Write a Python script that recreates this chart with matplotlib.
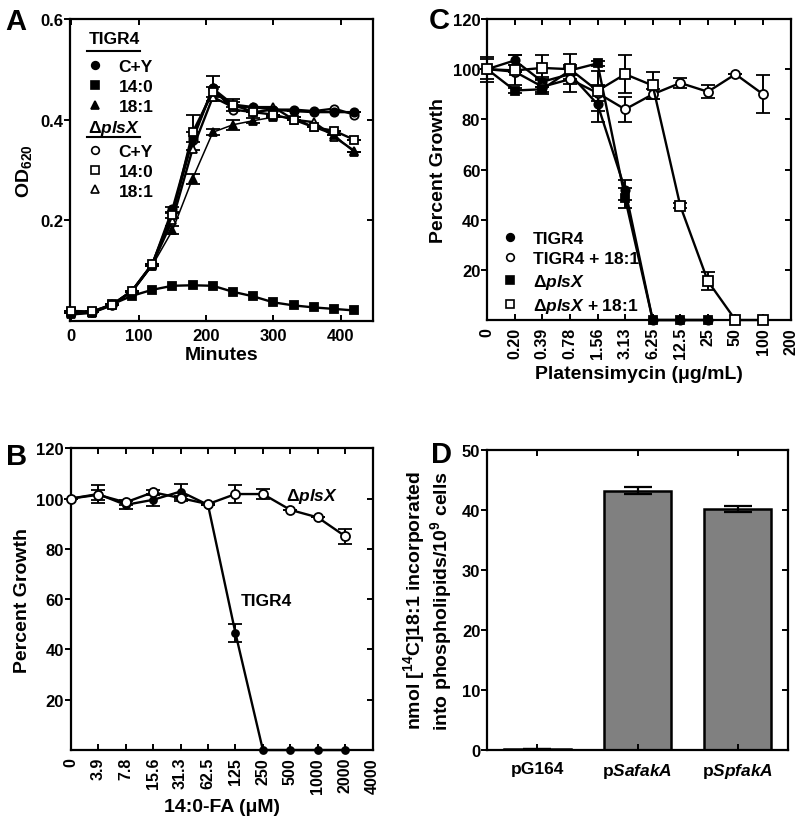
import numpy as np
import matplotlib
matplotlib.use('Agg')
import matplotlib.pyplot as plt
from matplotlib.lines import Line2D

plt.rcParams['font.family'] = ['Liberation Sans', 'DejaVu Sans']
plt.rcParams['font.weight'] = 'bold'
plt.rcParams['axes.labelweight'] = 'bold'
plt.rcParams['mathtext.fontset'] = 'custom'
plt.rcParams['mathtext.rm'] = 'Liberation Sans:bold'
plt.rcParams['mathtext.it'] = 'Liberation Sans:bold:italic'
plt.rcParams['mathtext.bf'] = 'Liberation Sans:bold'

PLSX = r'$\Delta\mathit{plsX}$'

# ---- panel A: growth curves
minutes = [0, 30, 60, 90, 120, 150, 180, 210, 240, 270, 300, 330, 360, 390, 420]
tigr4_cy = [0.015, 0.017, 0.032, 0.058, 0.112, 0.222, 0.365, 0.462, 0.43, 0.425, 0.42, 0.417, 0.415, 0.415, 0.415]
tigr4_cy_err = [0, 0, 0, 0, 0, 0.005, 0.01, 0.025, 0.012, 0, 0, 0, 0, 0, 0]
tigr4_140 = [0.017, 0.018, 0.033, 0.05, 0.062, 0.07, 0.071, 0.07, 0.058, 0.049, 0.037, 0.031, 0.027, 0.024, 0.021]
tigr4_181 = [0.015, 0.017, 0.033, 0.058, 0.11, 0.18, 0.283, 0.375, 0.39, 0.398, 0.405, 0.405, 0.385, 0.37, 0.335]
tigr4_181_err = [0, 0, 0, 0, 0, 0.008, 0.01, 0.006, 0.01, 0.005, 0, 0, 0, 0, 0]
plsx_cy = [0.015, 0.017, 0.032, 0.06, 0.113, 0.215, 0.36, 0.462, 0.42, 0.415, 0.42, 0.42, 0.417, 0.422, 0.41]
plsx_140 = [0.02, 0.019, 0.032, 0.06, 0.113, 0.21, 0.375, 0.455, 0.43, 0.415, 0.41, 0.40, 0.385, 0.378, 0.36]
plsx_140_err = [0, 0, 0, 0, 0, 0.005, 0.035, 0.01, 0.005, 0, 0, 0, 0, 0, 0]
plsx_181 = [0.013, 0.016, 0.031, 0.06, 0.112, 0.20, 0.342, 0.445, 0.425, 0.425, 0.425, 0.40, 0.395, 0.366, 0.338]

# ---- panel B: 14:0 titration
fa_labels = ['0', '3.9', '7.8', '15.6', '31.3', '62.5', '125', '250', '500', '1000', '2000', '4000']
b_tigr4 = [100, 101.8, 97.5, 99.5, 102.8, 97.5, 46.5, 0, 0, 0, 0]
b_tigr4_err = [0, 3.5, 1.5, 2.5, 3, 0, 3.5, 0, 0, 0, 0]
b_plsx = [100, 101.5, 98.5, 102.5, 100.2, 97.8, 101.8, 101.8, 95.5, 92.5, 85]
b_plsx_err = [0, 2, 1, 1, 1, 0, 3.5, 2, 0, 0, 3]

# ---- panel C: platensimycin titration
pla_labels = ['0', '0.20', '0.39', '0.78', '1.56', '3.13', '6.25', '12.5', '25', '50', '100', '200']
c_tigr4 = [100, 103.5, 95, 98, 86, 52, 0, 0, 0]
c_tigr4_err = [4, 2, 2, 2, 7, 4, 0, 0, 0]
c_tigr4_181 = [100, 99, 93, 96, 90.5, 84, 90, 94.5, 91, 98, 90]
c_tigr4_181_err = [0, 0, 3, 5, 3, 5, 2, 2, 2.5, 0, 7.5]
c_plsx = [100, 91.5, 92, 99.5, 102.3, 48.5, 0, 0, 0]
c_plsx_err = [0, 1, 1, 2, 1, 4, 0, 0, 0]
c_plsx_181 = [100, 99.5, 100.5, 100, 91.4, 98, 93.5, 45.5, 15.5, 0, 0]
c_plsx_181_err = [5, 6, 5, 6, 8, 7.5, 5.5, 1, 3.5, 0, 0]

# ---- panel D: incorporation
strains = ['pG164', r'p$\mathit{SafakA}$', r'p$\mathit{SpfakA}$']
incorp = [0.2, 43.2, 40.2]
incorp_err = [0.05, 0.6, 0.5]

fig = plt.figure(figsize=(8, 8.2), dpi=100)
axA = fig.add_axes([0.0875, 0.6073, 0.379, 0.3683])
axC = fig.add_axes([0.609, 0.6085, 0.3793, 0.3671])
axB = fig.add_axes([0.0884, 0.0841, 0.3775, 0.368])
axD = fig.add_axes([0.609, 0.0841, 0.376, 0.3663])


def style(ax):
    for s in ax.spines.values():
        s.set_linewidth(1.6)
    ax.tick_params(axis='both', which='both', labelsize=12, width=1.4, length=4)
    ax.tick_params(axis='x', direction='in', top=True, pad=5)
    ax.tick_params(axis='y', direction='out', right=False, pad=1)
    sec = ax.secondary_yaxis('right')
    sec.tick_params(direction='in', width=1.4, length=4, labelright=False)
    sec.spines['right'].set_visible(False)
    return sec


def series(ax, x, y, err, marker, filled, ms=6.5, lw=1.7):
    fc = 'black' if filled else 'white'
    if err is not None:
        ax.errorbar(x, y, yerr=err, color='black', lw=lw, marker=marker, ms=ms,
                    mfc=fc, mec='black', mew=1.3, capsize=5, elinewidth=1.4,
                    capthick=1.4, clip_on=False, zorder=3)
    else:
        ax.plot(x, y, color='black', lw=lw, marker=marker, ms=ms, mfc=fc,
                mec='black', mew=1.3, clip_on=False, zorder=3)


# panel A
series(axA, minutes, tigr4_140, None, 's', True, ms=6)
series(axA, minutes, tigr4_181, tigr4_181_err, '^', True, ms=6, lw=1.1)
series(axA, minutes, tigr4_cy, tigr4_cy_err, 'o', True, ms=6)
series(axA, minutes, plsx_cy, None, 'o', False, ms=6)
series(axA, minutes, plsx_140, plsx_140_err, 's', False, ms=6)
series(axA, minutes, plsx_181, None, '^', False, ms=6)
axA.set_xlim(-2, 448)
axA.set_ylim(0, 0.6)
axA.set_xticks([0, 100, 200, 300, 400])
axA.set_yticks([0.2, 0.4, 0.6])
axA.set_yticklabels(['0.2', '0.4', '0.6'])
secA = style(axA)
secA.set_yticks([0.2, 0.4])
axA.set_xlabel('Minutes', fontsize=14, labelpad=2)
axA.set_ylabel('OD$_{620}$', fontsize=14, labelpad=4)

mk = dict(ls='none', color='black', ms=5.5, mec='black', mew=1.2)
h1 = [Line2D([], [], marker='o', mfc='black', **mk),
      Line2D([], [], marker='s', mfc='black', **mk),
      Line2D([], [], marker='^', mfc='black', **mk)]
h2 = [Line2D([], [], marker='o', mfc='white', **mk),
      Line2D([], [], marker='s', mfc='white', **mk),
      Line2D([], [], marker='^', mfc='white', **mk)]
conds = ['C+Y', '14:0', '18:1']
legkw = dict(loc='upper left', frameon=False, handlelength=0.7, handletextpad=1.0,
             labelspacing=0.27, borderaxespad=0, borderpad=0, fontsize=12.5)
leg1 = axA.legend(h1, conds, bbox_to_anchor=(0.063, 0.868), **legkw)
axA.add_artist(leg1)
axA.legend(h2, conds, bbox_to_anchor=(0.063, 0.587), **legkw)
axA.text(0.145, 0.934, 'TIGR4', transform=axA.transAxes, ha='center', va='center', fontsize=12.5)
axA.text(0.145, 0.641, PLSX, transform=axA.transAxes, ha='center', va='center', fontsize=12.5)
axA.plot([0.055, 0.231], [0.895, 0.895], transform=axA.transAxes, color='black', lw=1.5)
axA.plot([0.055, 0.231], [0.608, 0.608], transform=axA.transAxes, color='black', lw=1.5)

# panel B
xb = np.arange(len(b_plsx))
series(axB, xb, b_tigr4, b_tigr4_err, 'o', True, ms=5)
series(axB, xb, b_plsx, b_plsx_err, 'o', False)
axB.set_xlim(0, len(fa_labels) - 1)
axB.set_ylim(0, 120)
axB.set_xticks(np.arange(len(fa_labels)))
axB.set_xticklabels(fa_labels, rotation=90)
axB.set_yticks([20, 40, 60, 80, 100, 120])
secB = style(axB)
secB.set_yticks([20, 40, 60, 80, 100])
axB.tick_params(axis='x', labelsize=11.5)
axB.set_xlabel('14:0-FA (μM)', fontsize=14, labelpad=4)
axB.set_ylabel('Percent Growth', fontsize=14, labelpad=4)
axB.text(7.85, 101.2, PLSX, fontsize=12.5, ha='left', va='center')
axB.text(6.2, 59.4, 'TIGR4', fontsize=12.5, ha='left', va='center')

# panel C
series(axC, np.arange(len(c_tigr4)), c_tigr4, c_tigr4_err, 'o', True, ms=6)
series(axC, np.arange(len(c_tigr4_181)), c_tigr4_181, c_tigr4_181_err, 'o', False)
series(axC, np.arange(len(c_plsx)), c_plsx, c_plsx_err, 's', True, ms=6)
series(axC, np.arange(len(c_plsx_181)), c_plsx_181, c_plsx_181_err, 's', False)
axC.set_xlim(0, len(pla_labels) - 1)
axC.set_ylim(0, 120)
axC.set_xticks(np.arange(len(pla_labels)))
axC.set_xticklabels(pla_labels, rotation=90)
axC.set_yticks([20, 40, 60, 80, 100, 120])
secC = style(axC)
secC.set_yticks([20, 40, 60, 80, 100])
axC.tick_params(axis='x', labelsize=11.5)
axC.set_xlabel('Platensimycin (μg/mL)', fontsize=14, labelpad=5)
axC.set_ylabel('Percent Growth', fontsize=14, labelpad=4)
hc = [Line2D([], [], marker='o', mfc='black', **mk),
      Line2D([], [], marker='o', mfc='white', **mk),
      Line2D([], [], marker='s', mfc='black', **mk),
      Line2D([], [], marker='s', mfc='white', **mk)]
axC.legend(hc, ['TIGR4', 'TIGR4 + 18:1', PLSX, PLSX + ' + 18:1'], loc='lower left',
           bbox_to_anchor=(0.055, 0.017), frameon=False, handlelength=0.7,
           handletextpad=0.95, labelspacing=0.3, borderaxespad=0, borderpad=0, fontsize=12.5)

# panel D
xd = np.arange(len(strains))
axD.bar(xd, incorp, width=0.67, color='#808080', edgecolor='black', linewidth=1.8,
        yerr=incorp_err, capsize=10, error_kw=dict(elinewidth=1.6, capthick=1.6))
axD.set_xlim(-0.5, 2.5)
axD.set_ylim(0, 50)
axD.set_xticks(xd)
axD.set_xticklabels(strains)
axD.set_yticks([0, 10, 20, 30, 40, 50])
secD = style(axD)
secD.set_yticks([10, 20, 30, 40])
axD.tick_params(axis='x', labelsize=12.5, pad=8)
axD.set_ylabel('nmol [$^{14}$C]18:1 incorporated\ninto phospholipids/10$^{9}$ cells',
               fontsize=14, labelpad=6, linespacing=1.05)

for lab, x, y in [('A', 0.006, 0.9634), ('C', 0.536, 0.9646), ('B', 0.008, 0.433), ('D', 0.539, 0.435)]:
    fig.text(x, y, lab, fontsize=21, weight='bold', va='baseline')

fig.savefig('out.png', dpi=100)
